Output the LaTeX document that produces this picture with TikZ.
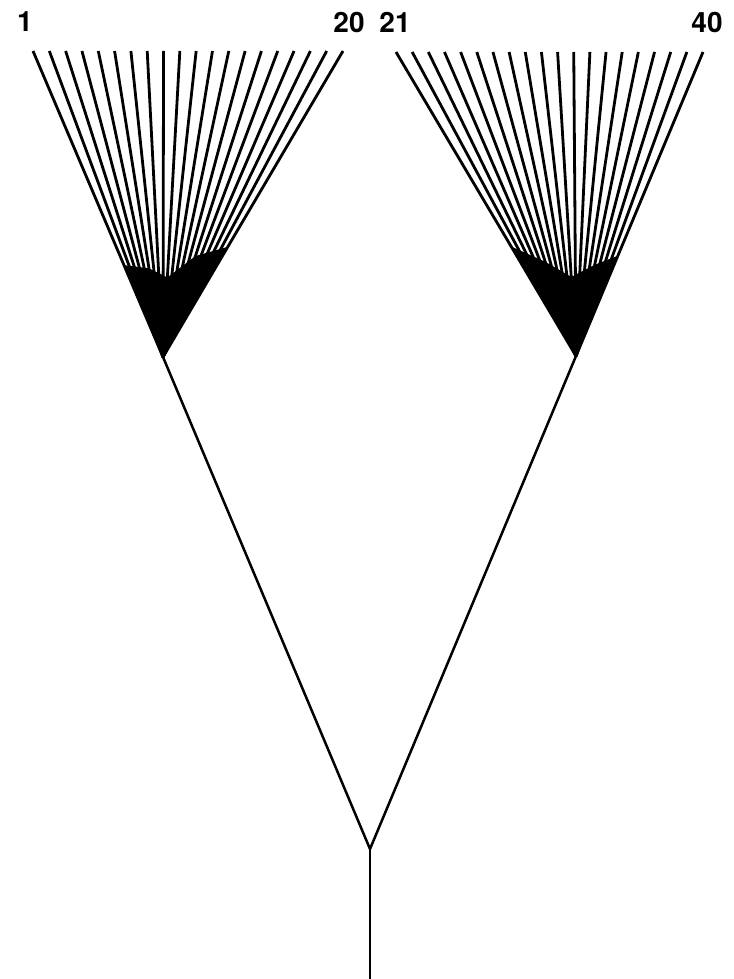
\documentclass[tikz,border=0pt]{standalone}
\usepackage{fontspec}
\setmainfont{TeX Gyre Heros}
\usetikzlibrary{calc}
\begin{document}
\begin{tikzpicture}[x=1pt,y=-1pt,
  branch/.style={line width=2.5pt,line cap=round,black},
  twig/.style={line width=2.8pt,black},
  lbl/.style={font=\fontsize{28}{28}\selectfont\bfseries,inner sep=0pt,anchor=center},
  mass/.style={fill=black,draw=none}]
\useasboundingbox (0,0) rectangle (733,979);
% main nodes
\coordinate (root) at (370,849);
\coordinate (base) at (370,979);
\coordinate (A) at (163,357);
\coordinate (B) at (576,356);
% leaves
\foreach \i in {1,...,20}{
  \coordinate (L\i) at ({33+(\i-1)*310/19},51);
}
\foreach \i in {21,...,40}{
  \coordinate (L\i) at ({396+(\i-21)*307/19},52);
}
% fans
\foreach \i in {1,...,20}{ \draw[twig] (A) -- (L\i); }
\foreach \i in {21,...,40}{ \draw[twig] (B) -- (L\i); }
% dark mass near the apexes
\fill[mass] (A) -- ($(A)!0.30!(L1)$) -- ($(A)!0.29!(L6)$) -- ($(A)!0.26!(L10)$) -- ($(A)!0.33!(L15)$) -- ($(A)!0.36!(L20)$) -- cycle;
\fill[mass] (B) -- ($(B)!0.36!(L21)$) -- ($(B)!0.31!(L26)$) -- ($(B)!0.26!(L31)$) -- ($(B)!0.30!(L36)$) -- ($(B)!0.33!(L40)$) -- cycle;
% trunk
\draw[branch] (base) -- (root);
\draw[branch] (root) -- (A);
\draw[branch] (root) -- (B);
% labels
\node[lbl] (n1) at (25,22) {1};
\node[lbl] (n20) at (349,22) {20};
\node[lbl] (n21) at (395,22) {21};
\node[lbl] (n40) at (707,22) {40};
\end{tikzpicture}
\end{document}
